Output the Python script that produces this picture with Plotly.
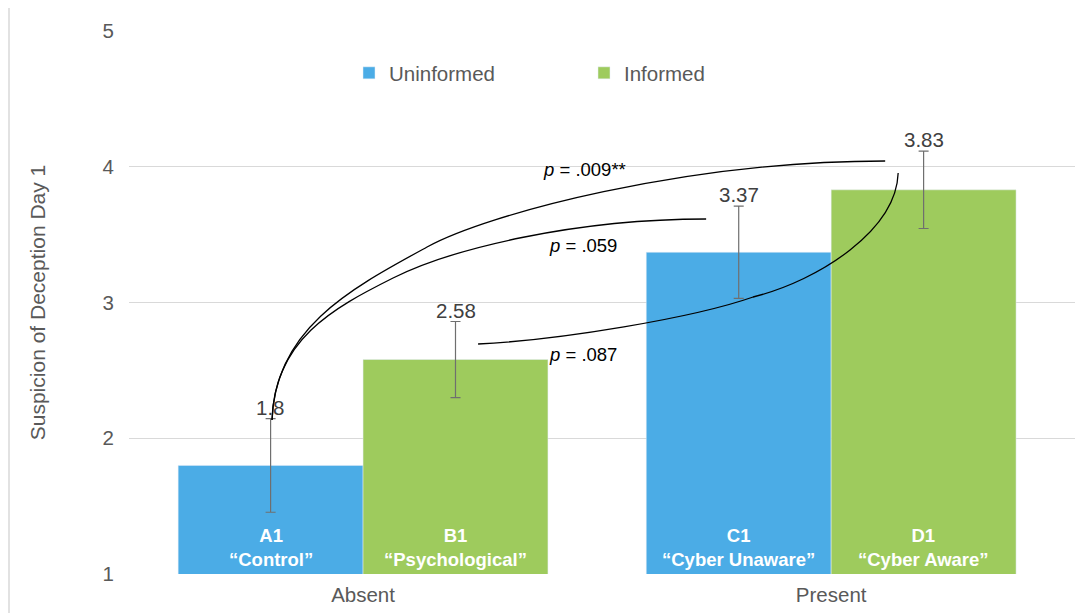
import plotly.graph_objects as go

categories = ["Absent", "Present"]
series_names = ["Uninformed", "Informed"]
uninformed = [1.8, 3.37]
informed = [2.58, 3.83]
uninformed_err = [0.345, 0.34]
informed_err = [0.28, 0.285]
uninformed_labels = ["A1<br>“Control”", "C1<br>“Cyber Unaware”"]
informed_labels = ["B1<br>“Psychological”", "D1<br>“Cyber Aware”"]
value_text_uninformed = ["1.8", "3.37"]
value_text_informed = ["2.58", "3.83"]
y_ticks = [1, 2, 3, 4, 5]

BLUE = "#4BACE6"
GREEN = "#9ECB5D"
FONT = "Liberation Sans, Arial, sans-serif"
GREY = "#595959"

xpos = list(range(len(categories)))

fig = go.Figure()
fig.add_trace(go.Bar(
    name=series_names[0], x=xpos, y=uninformed, marker_color=BLUE,
    error_y=dict(type="data", array=uninformed_err, color="#6f6f6f", thickness=1.2, width=5),
))
fig.add_trace(go.Bar(
    name=series_names[1], x=xpos, y=informed, marker_color=GREEN,
    error_y=dict(type="data", array=informed_err, color="#6f6f6f", thickness=1.2, width=5),
))

bargap = 0.21
bw = (1 - bargap) / 2
offsets = [-bw / 2, bw / 2]

annotations = []
for vals, errs, texts, inner, off in [
    (uninformed, uninformed_err, value_text_uninformed, uninformed_labels, offsets[0]),
    (informed, informed_err, value_text_informed, informed_labels, offsets[1]),
]:
    for i, x in enumerate(xpos):
        annotations.append(dict(
            x=x + off, y=vals[i] + errs[i], text=texts[i], showarrow=False,
            yanchor="bottom", yshift=-2, font=dict(size=20.5, color="#404040", family=FONT)))
        annotations.append(dict(
            x=x + off, y=1, text="<b>" + inner[i] + "</b>", showarrow=False,
            yanchor="bottom", yshift=2, font=dict(size=18.5, color="white", family=FONT)))

p_labels = [("<i>p</i> = .009**", 0.472, 3.98), ("<i>p</i> = .059", 0.47, 3.42),
            ("<i>p</i> = .087", 0.47, 2.62)]
for t, x, y in p_labels:
    annotations.append(dict(x=x, y=y, text=t, showarrow=False,
                            font=dict(size=18.5, color="black", family=FONT)))

def px2d(px, py):
    return ((px - 363) / 468.0, 1 + (574 - py) / 135.75)

def bez(pts):
    d = [px2d(*p) for p in pts]
    s = "M {},{}".format(*d[0])
    for k in range(1, len(d), 3):
        s += " C {},{} {},{} {},{}".format(*d[k], *d[k + 1], *d[k + 2])
    return s

curves = [
    [(272, 420), (275, 328), (352, 288), (427, 247), (487, 214), (685, 161), (885, 161)],
    [(272, 420), (274, 340), (333, 308), (393, 278), (453, 248), (576, 219), (706, 219)],
    [(478, 344), (560, 340), (693, 318), (753, 297), (820, 280), (896, 230), (898, 173)],
]
shapes = []
for c in curves:
    shapes.append(dict(type="path", xref="x", yref="y", path=bez(c),
                       line=dict(color="black", width=1.3)))
shapes.append(dict(type="rect", xref="paper", yref="paper",
                   x0=(9 - 129) / 954, x1=1.2, y0=-0.3, y1=1 + 26 / 543,
                   line=dict(color="#d9d9d9", width=1.5), layer="below"))

fig.update_layout(
    width=1075, height=605,
    margin=dict(l=121, r=0, t=23, b=39),
    plot_bgcolor="white", paper_bgcolor="white",
    barmode="group", bargap=bargap, bargroupgap=0,
    font=dict(family=FONT, color=GREY, size=20),
    xaxis=dict(range=[-0.5, 1.538], tickvals=xpos, ticktext=categories,
               showgrid=False, zeroline=False, showline=False,
               tickfont=dict(size=20.5, color=GREY), ticks="", ticklabelstandoff=6),
    yaxis=dict(range=[1, 5], tickvals=y_ticks, showgrid=True, gridcolor="#d9d9d9",
               gridwidth=1, zeroline=False, showline=False,
               tickfont=dict(size=20.5, color=GREY), ticks="", ticklabelstandoff=14,
               title=dict(text="Suspicion of Deception Day 1", font=dict(size=21, color=GREY),
                          standoff=51)),
    legend=dict(orientation="h", x=(349 - 129) / 954, y=(574 - 73) / 543,
                xanchor="left", yanchor="middle",
                font=dict(size=20.5, color=GREY), entrywidth=190, itemwidth=30,
                bgcolor="rgba(0,0,0,0)"),
    annotations=annotations,
    shapes=shapes,
    showlegend=True,
)

fig.write_html("out.html")
